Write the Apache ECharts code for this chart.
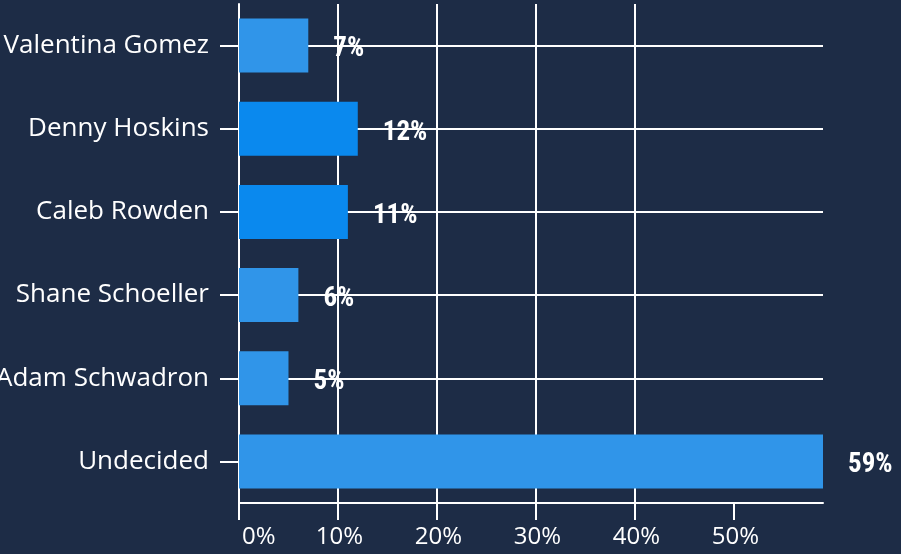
<!DOCTYPE html>
<html>
<head>
<meta charset="utf-8">
<script src="https://cdn.jsdelivr.net/npm/echarts@6/dist/echarts.min.js"></script>
<style>
html,body{margin:0;padding:0;background:#1d2c46;}
#chart{width:901px;height:554px;}
</style>
</head>
<body>
<div id="chart"></div>
<script>
var categories = ['Valentina Gomez', 'Denny Hoskins', 'Caleb Rowden', 'Shane Schoeller', 'Adam Schwadron', 'Undecided'];
var values = [7, 12, 11, 6, 5, 59];
var highlighted = [false, true, true, false, false, false];
var xTicks = [0, 10, 20, 30, 40, 50];

var colorLight = '#3095e9';
var colorDark = '#0a89ee';

var chart = echarts.init(document.getElementById('chart'), null, {renderer: 'canvas'});
chart.setOption({
  backgroundColor: '#1d2c46',
  animation: false,
  grid: {left: 239, right: 78, top: 4, bottom: 51, containLabel: false, outerBoundsMode: 'none'},
  xAxis: {
    type: 'value',
    min: 0,
    max: 59,
    interval: 10,
    axisLine: {show: true, lineStyle: {color: '#ffffff', width: 2}},
    axisTick: {show: true, length: 17, lineStyle: {color: '#ffffff', width: 2}, customValues: xTicks},
    axisLabel: {
      color: '#ffffff', fontSize: 24, fontFamily: '"Open Sans", Lato, sans-serif', margin: 22,
      customValues: xTicks,
      alignMinLabel: 'left',
      padding: [0, 0, 0, 3],
      formatter: function (v) { return v + '%'; }
    },
    splitLine: {show: true, showMinLine: false, showMaxLine: false, lineStyle: {color: '#ffffff', width: 2}}
  },
  yAxis: {
    type: 'category',
    inverse: true,
    data: categories,
    axisLine: {show: true, lineStyle: {color: '#ffffff', width: 2}},
    axisTick: {show: true, alignWithLabel: true, length: 19, lineStyle: {color: '#ffffff', width: 2}},
    axisLabel: {color: '#ffffff', fontSize: 26, fontFamily: '"Open Sans", Lato, sans-serif', margin: 30, padding: [6, 0, 0, 0]},
    splitLine: {show: true, alignWithLabel: true, lineStyle: {color: '#ffffff', width: 2}}
  },
  series: [{
    type: 'bar',
    barWidth: '65%',
    data: values.map(function (v, i) {
      return {value: v, itemStyle: {color: highlighted[i] ? colorDark : colorLight}};
    }),
    label: {
      show: true,
      position: 'right',
      distance: 25,
      color: '#ffffff',
      fontSize: 27,
      fontWeight: 'bold',
      fontFamily: '"Roboto Condensed", "Liberation Sans Narrow", "DejaVu Sans Condensed", Roboto, sans-serif',
      offset: [0, 4],
      formatter: function (p) { return p.value + '%'; }
    }
  }]
});
</script>
</body>
</html>
